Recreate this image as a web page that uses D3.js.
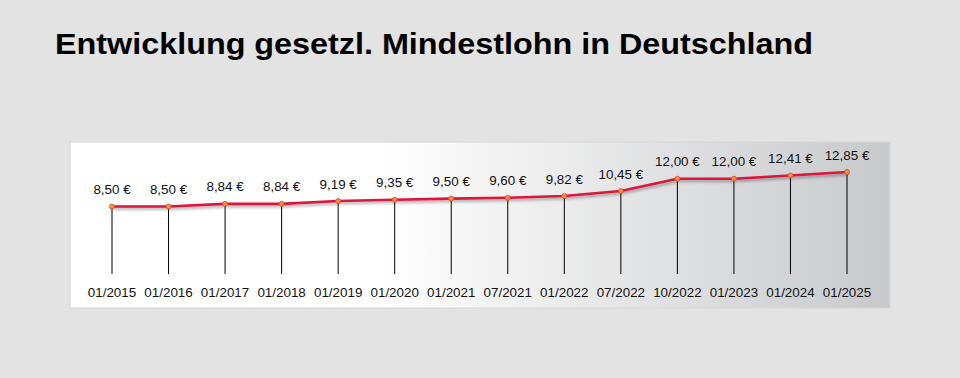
<!DOCTYPE html>
<html>
<head>
<meta charset="utf-8">
<script src="https://cdn.jsdelivr.net/npm/d3@7"></script>
<style>
  body { margin: 0; background: #e3e3e3; }
  svg { display: block; font-family: "Liberation Sans", Arial, sans-serif; }
</style>
</head>
<body>
<svg id="chart" width="960" height="378"></svg>
<script>
var dates = ['01/2015', '01/2016', '01/2017', '01/2018', '01/2019', '01/2020', '01/2021',
	'07/2021', '01/2022', '07/2022', '10/2022', '01/2023', '01/2024', '01/2025'];
var wages = [8.50, 8.50, 8.84, 8.84, 9.19, 9.35, 9.50, 9.60, 9.82, 10.45, 12.00, 12.00, 12.41, 12.85];
var wageLabels = ['8,50 €', '8,50 €', '8,84 €', '8,84 €', '9,19 €', '9,35 €', '9,50 €',
	'9,60 €', '9,82 €', '10,45 €', '12,00 €', '12,00 €', '12,41 €', '12,85 €'];

var svg = d3.select('#chart');

svg.append('rect')
	.attr('width', 960).attr('height', 378)
	.attr('fill', '#e3e3e3');

svg.append('text')
	.attr('x', 55)
	.attr('y', 54)
	.attr('font-size', 29)
	.attr('font-weight', 'bold')
	.attr('fill', '#000')
	.attr('textLength', 758)
	.attr('lengthAdjust', 'spacingAndGlyphs')
	.text('Entwicklung gesetzl. Mindestlohn in Deutschland');

var defs = svg.append('defs');
var grad = defs.append('linearGradient').attr('id', 'panelGrad');
grad.append('stop').attr('offset', '0%').attr('stop-color', '#ffffff');
grad.append('stop').attr('offset', '38%').attr('stop-color', '#ffffff');
grad.append('stop').attr('offset', '100%').attr('stop-color', '#c8c9cb');

var shadow = defs.append('filter').attr('id', 'lineShadow')
	.attr('x', '-5%').attr('y', '-50%').attr('width', '110%').attr('height', '200%');
shadow.append('feDropShadow')
	.attr('dx', 1).attr('dy', 2).attr('stdDeviation', 1.5)
	.attr('flood-color', '#000').attr('flood-opacity', 0.35);

// panel
svg.append('rect')
	.attr('x', 70).attr('y', 142)
	.attr('width', 820).attr('height', 166)
	.attr('fill', 'url(#panelGrad)')
	.attr('stroke', '#d6d6d6')
	.attr('stroke-width', 1);

var x = d3.scalePoint()
	.domain(dates)
	.range([112, 847]);

var y = d3.scaleLinear()
	.domain([0, 12.85])
	.range([274, 172]);

var g = svg.append('g');

// drop lines
g.selectAll('line.drop')
	.data(wages)
	.enter()
	.append('line')
		.attr('class', 'drop')
		.attr('x1', (d, i) => x(dates[i]))
		.attr('x2', (d, i) => x(dates[i]))
		.attr('y1', d => y(d))
		.attr('y2', y(0))
		.attr('stroke', '#000')
		.attr('stroke-width', 1);

var line = d3.line()
	.x((d, i) => x(dates[i]))
	.y(d => y(d));

g.append('path')
	.datum(wages)
	.attr('d', line)
	.attr('fill', 'none')
	.attr('stroke', '#dc143c')
	.attr('stroke-width', 2.6)
	.attr('stroke-linejoin', 'round')
	.attr('filter', 'url(#lineShadow)');

g.selectAll('circle')
	.data(wages)
	.enter()
	.append('circle')
		.attr('cx', (d, i) => x(dates[i]))
		.attr('cy', d => y(d))
		.attr('r', 2.5)
		.attr('fill', '#f7923a')
		.attr('stroke', '#e0403a')
		.attr('stroke-width', 0.8);

g.selectAll('text.val')
	.data(wages)
	.enter()
	.append('text')
		.attr('class', 'val')
		.attr('x', (d, i) => x(dates[i]))
		.attr('y', d => y(d) - 12.5)
		.attr('text-anchor', 'middle')
		.attr('font-size', 13.4)
		.attr('fill', '#111')
		.text((d, i) => wageLabels[i]);

g.selectAll('text.date')
	.data(dates)
	.enter()
	.append('text')
		.attr('class', 'date')
		.attr('x', d => x(d))
		.attr('y', 296.5)
		.attr('text-anchor', 'middle')
		.attr('font-size', 13.4)
		.attr('fill', '#111')
		.text(d => d);
</script>
</body>
</html>
